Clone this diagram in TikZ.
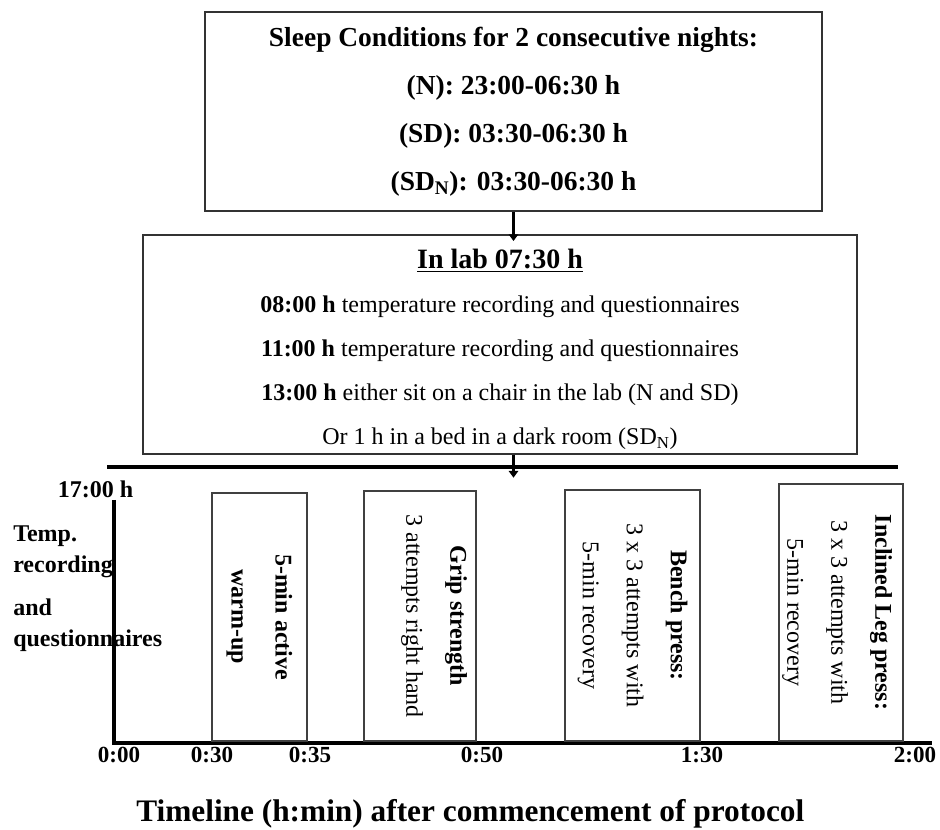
\documentclass[tikz,border=0pt]{standalone}
\usepackage{fontspec}
\setmainfont{Liberation Serif}
\usetikzlibrary{arrows.meta}

\tikzset{
  stagebox/.style={draw=black!80, line width=1pt, align=center, inner sep=0pt},
  taskbox/.style={draw=black!75, line width=0.8pt, inner sep=0pt},
  tasktext/.style={rotate=-90, align=center, inner sep=0pt, font=\fontsize{18}{33}\selectfont},
  ticklabel/.style={anchor=base, inner sep=0pt, font=\bfseries\fontsize{17.3}{20}\selectfont},
  sidelabel/.style={anchor=base west, inner sep=0pt, font=\bfseries\fontsize{18}{20}\selectfont},
  flow/.style={line width=2.2pt, -{Triangle[length=5pt,width=7pt]}},
  heavyline/.style={line width=3pt},
  axisline/.style={line width=2.6pt, line join=miter}
}

\begin{document}
\begin{tikzpicture}[x=0.75pt,y=-0.75pt]
\useasboundingbox (0,0) rectangle (940,830);

% sleep conditions and lab morning
\node[stagebox, minimum width=462.75pt, minimum height=149.25pt,
  font=\bfseries\fontsize{20.6}{36}\selectfont] (sleep) at (513.5,111.5)
  {Sleep Conditions for 2 consecutive nights:\\
   (N): 23:00-06:30 h\\
   (SD): 03:30-06:30 h\\
   (SD\textsubscript{N}): 03:30-06:30 h};
\node[stagebox, minimum width=535.5pt, minimum height=164.25pt,
  font=\fontsize{18}{33}\selectfont] (lab) at (500,344.5)
  {\rule{0pt}{22pt}{\bfseries\fontsize{21}{33}\selectfont\underline{In lab 07:30 h}}\\
   \textbf{08:00 h} temperature recording and questionnaires\\
   \textbf{11:00 h} temperature recording and questionnaires\\
   \textbf{13:00 h} either sit on a chair in the lab (N and SD)\\
   Or 1 h in a bed in a dark room (SD\textsubscript{N})};

\coordinate (divL) at (107,467);
\coordinate (divR) at (898,467);
\draw[heavyline] (divL) -- (divR);

\draw[flow, shorten >=-5pt] (sleep.south) -- (sleep.south |- lab.north);
\draw[flow, shorten >=-8pt] (sleep.south |- lab.south) -- (sleep.south |- divL);

% timeline axes
\coordinate (ytop) at (114,500);
\coordinate (origin) at (114,743);
\coordinate (xend) at (932,743);
\draw[axisline] (ytop) -- (origin) -- (xend);

% tasks
\node[taskbox, minimum width=71.25pt, minimum height=186pt] (warm) at (259.5,617) {};
\node[taskbox, minimum width=84pt, minimum height=187.5pt] (grip) at (420,616) {};
\node[taskbox, minimum width=101.25pt, minimum height=188.25pt] (bench) at (632.5,615.5) {};
\node[taskbox, minimum width=93pt, minimum height=192.75pt] (leg) at (841,612.5) {};

\node[tasktext] (warmtxt) at (warm.center) {\textbf{5-min active}\\ \textbf{warm-up}};
\node[tasktext] (griptxt) at ([xshift=10.5pt]grip.center) {\textbf{Grip strength}\\ 3 attempts right hand};
\node[tasktext] (benchtxt) at (bench.center) {\textbf{Bench press:}\\ 3 x 3 attempts with\\ 5-min recovery};
\node[tasktext] (legtxt) at ([xshift=-3pt]leg.center) {\textbf{Inclined Leg press:}\\ 3 x 3 attempts with\\ 5-min recovery};

% labels
\node[sidelabel, anchor=base] (start) at (95.5,498) {17:00 h};
\node[sidelabel] (temp) at (13,542) {Temp.};
\node[sidelabel] (rec) at (13,573) {recording};
\node[sidelabel] (and) at (13,616) {and};
\node[sidelabel] (quest) at (13,647) {questionnaires};

\node[ticklabel] (t0) at (119,763) {0:00};
\node[ticklabel] (t30) at (212,763) {0:30};
\node[ticklabel] (t35) at (310,763) {0:35};
\node[ticklabel] (t50) at (482,763) {0:50};
\node[ticklabel] (t90) at (702,763) {1:30};
\node[ticklabel] (t120) at (915,763) {2:00};

\node[anchor=base west, inner sep=0pt, font=\bfseries\fontsize{23.5}{28}\selectfont] (title)
  at (136,821) {Timeline (h:min) after commencement of protocol};
\end{tikzpicture}
\end{document}
